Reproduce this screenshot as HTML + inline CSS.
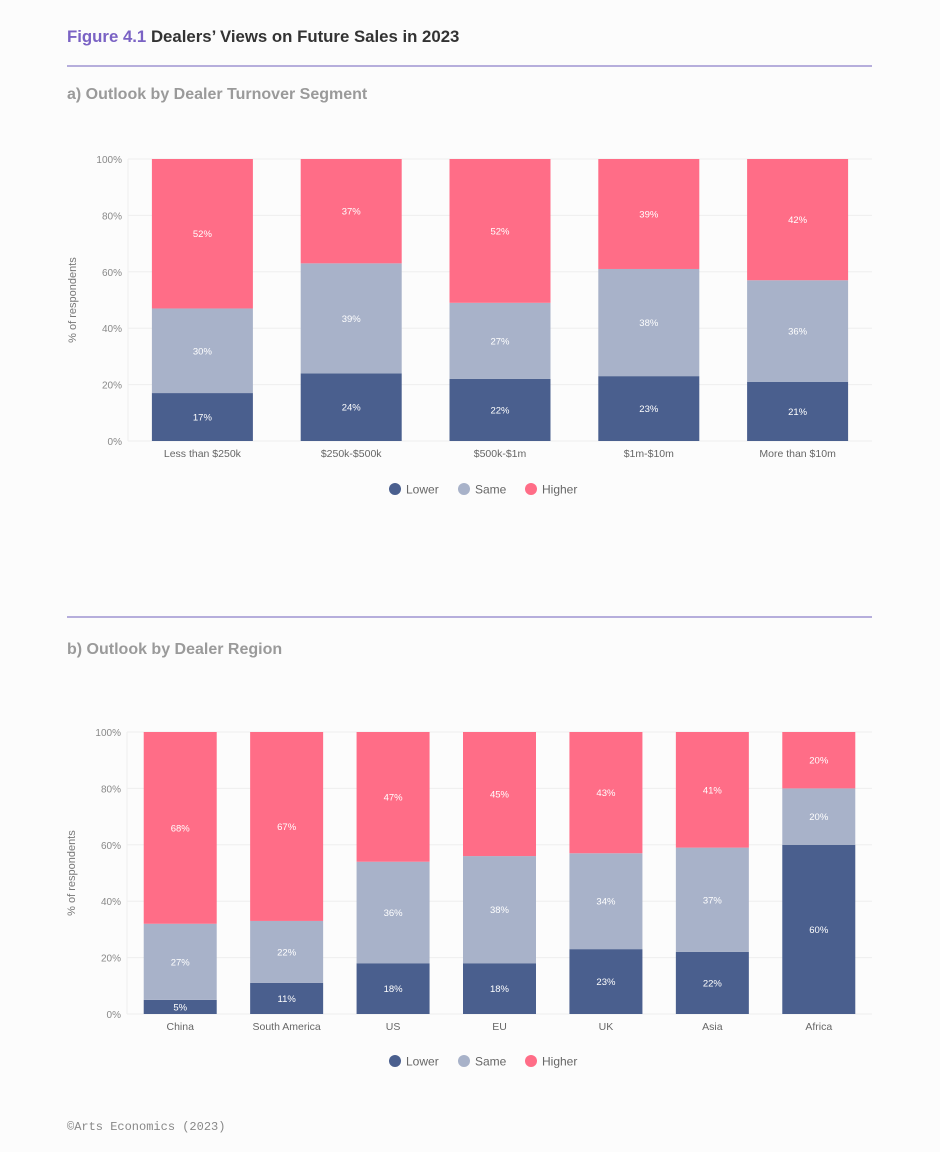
<!DOCTYPE html>
<html><head><meta charset="utf-8"><style>
body{margin:0;background:#fcfcfc;width:940px;height:1152px;overflow:hidden;font-family:"Liberation Sans",sans-serif;}
svg{position:absolute;left:0;top:0}
</style></head><body>
<svg id="s" width="940" height="1152">
<text x="67" y="42" font-size="16.8" font-weight="bold" fill="#7a62c4">Figure 4.1 <tspan fill="#333">Dealers’ Views on Future Sales in 2023</tspan></text>
<line x1="67" x2="872" y1="66" y2="66" stroke="#8b80c9" stroke-width="1.2"/>
<text x="67" y="99" font-size="16" font-weight="bold" fill="#9a9a9a">a) Outlook by Dealer Turnover Segment</text>
<line x1="67" x2="872" y1="617" y2="617" stroke="#8b80c9" stroke-width="1.2"/>
<text x="67" y="654" font-size="16" font-weight="bold" fill="#9a9a9a">b) Outlook by Dealer Region</text>
<text x="67" y="1130" font-size="12" fill="#888" font-family="Liberation Mono, monospace">©Arts Economics (2023)</text>
</svg>
<script>
const catsA=["Less than $250k","$250k-$500k","$500k-$1m","$1m-$10m","More than $10m"];
const lowerA=[17,24,22,23,21];
const sameA=[30,39,27,38,36];
const higherA=[52,37,52,39,42];
const catsB=["China","South America","US","EU","UK","Asia","Africa"];
const lowerB=[5,11,18,18,23,22,60];
const sameB=[27,22,36,38,34,37,20];
const higherB=[68,67,47,45,43,41,20];
const ticks=[0,20,40,60,80,100];
const colors=["#4a5f8e","#a8b2c9","#ff6d87"];
const names=["Lower","Same","Higher"];
const svg=document.getElementById('s');
const NS="http://www.w3.org/2000/svg";
function mk(t,a){const e=document.createElementNS(NS,t);for(const k in a)e.setAttribute(k,a[k]);svg.appendChild(e);return e;}
function chart(id,cats,series,x0,x1,y0,y1,bw,legY){
  const yS=v=>y0-(v/100)*(y0-y1);
  const band=(x1-x0)/cats.length;
  const xC=i=>x0+band*(i+0.5);
  ticks.forEach(t=>{
    const l=mk('line',{x1:x0,x2:x1,y1:yS(t),y2:yS(t),stroke:'#eeeeee','stroke-width':1});
    
    
    const tx=mk('text',{x:x0-6,y:yS(t)+4,'text-anchor':'end','font-size':10,fill:'#888'});
    tx.textContent=t+'%';
    
    
  });
  const ax=mk('line',{x1:x0,x2:x0,y1:y1,y2:y0,stroke:'#eeeeee'});
  
  
  const yt=mk('text',{x:0,y:0,'text-anchor':'middle','font-size':11,fill:'#777',transform:`translate(${x0-52},${(y0+y1)/2}) rotate(-90)`});
  yt.textContent='% of respondents';
  
  
  cats.forEach((c,i)=>{
    let cum=0;
    series.forEach((s,k)=>{
      const v=s[i];
      const last=k===series.length-1;
      const top=last?yS(100):yS(cum+v),bot=yS(cum);
      const r=mk('rect',{x:xC(i)-bw/2,y:top,width:bw,height:bot-top,fill:colors[k]});
      
      
      const t=mk('text',{x:xC(i),y:(top+bot)/2+3.5,'text-anchor':'middle','font-size':9.5,fill:'#fff'});
      t.textContent=v+'%';
      
      
      cum+=v;
    });
    const xl=mk('text',{x:xC(i),y:y0+16,'text-anchor':'middle','font-size':10.5,fill:'#666'});
    xl.textContent=c;
    
    
  });
  let lx=[395,464,531];
  names.forEach((n,k)=>{
    const ci=mk('circle',{cx:lx[k],cy:legY,r:6,fill:colors[k]});
    
    
    const t=mk('text',{x:lx[k]+11,y:legY+4.5,'font-size':12,fill:'#666'});
    t.textContent=n;
    
    
  });
}
chart('chart-a',catsA,[lowerA,sameA,higherA],128,872,441,159,101,489);
chart('chart-b',catsB,[lowerB,sameB,higherB],127,872,1014,732,73,1061);
</script>
</body></html>
